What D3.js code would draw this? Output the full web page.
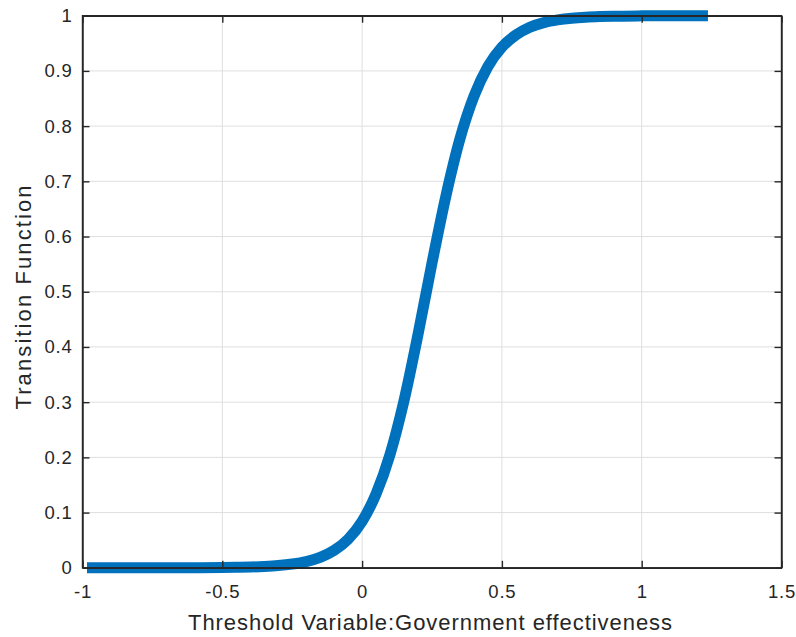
<!DOCTYPE html>
<html><head><meta charset="utf-8">
<script src="https://cdn.jsdelivr.net/npm/d3@7"></script>
<style>body{margin:0;background:#fff}svg{display:block}text{font-family:"Liberation Sans",Arial,sans-serif;fill:#262626}</style>
</head><body>
<svg id="c" width="796" height="637"></svg>
<script>
const xValues = [-0.984,-0.9,-0.8,-0.7,-0.6,-0.5,-0.45,-0.4,-0.35,-0.3,-0.25,-0.2,-0.15,-0.1,-0.05,0,0.05,0.1,0.15,0.2,0.25,0.3,0.35,0.4,0.45,0.5,0.55,0.6,0.65,0.7,0.75,0.8,0.85,0.9,1.0,1.1,1.237];
const yValues = [0.0000,0.0000,0.0000,0.0001,0.0002,0.0005,0.0009,0.0014,0.0024,0.0040,0.0068,0.0113,0.0189,0.0314,0.0517,0.084,0.134,0.2055,0.303,0.4227,0.552,0.674,0.777,0.854,0.908,0.943,0.965,0.979,0.9875,0.9925,0.9955,0.9973,0.9984,0.9991,0.9997,0.9999,1.0];
const xTicks = [-1,-0.5,0,0.5,1,1.5];
const yTicks = [0,0.1,0.2,0.3,0.4,0.5,0.6,0.7,0.8,0.9,1];
const xLabel = "Threshold Variable:Government effectiveness";
const yLabel = "Transition Function";

const svg = d3.select("#c");
const L=82.5, R=781.5, T=15.7, B=567.8;
const x = d3.scaleLinear().domain([-1,1.5]).range([L,R]);
const y = d3.scaleLinear().domain([0,1]).range([B,T]);
const fmt = d => String(d);

// grid
svg.append("g").selectAll("line").data(xTicks.slice(1,-1)).join("line")
  .attr("x1",d=>x(d)).attr("x2",d=>x(d)).attr("y1",T).attr("y2",B)
  .attr("stroke","#dfdfdf").attr("stroke-width",1);
svg.append("g").selectAll("line").data(yTicks.slice(1,-1)).join("line")
  .attr("y1",d=>y(d)).attr("y2",d=>y(d)).attr("x1",L).attr("x2",R)
  .attr("stroke","#dfdfdf").attr("stroke-width",1);

// curve
const line = d3.line().x((d,i)=>x(xValues[i])).y(d=>y(d)).curve(d3.curveMonotoneX);
svg.append("path").datum(yValues).attr("d",line).attr("fill","none")
  .attr("stroke","#0072BD").attr("stroke-width",11).attr("stroke-linecap","butt");

// axes
const ax = "#262626";
const gx = svg.append("g").attr("transform",`translate(0,${B})`)
  .call(d3.axisBottom(x).tickValues(xTicks).tickFormat(fmt).tickSizeInner(-7).tickSizeOuter(0).tickPadding(17));
const gx2 = svg.append("g").attr("transform",`translate(0,${T})`)
  .call(d3.axisTop(x).tickValues(xTicks).tickFormat("").tickSizeInner(-7).tickSizeOuter(0));
const gy = svg.append("g").attr("transform",`translate(${L},0)`)
  .call(d3.axisLeft(y).tickValues(yTicks).tickFormat(fmt).tickSizeInner(-7).tickSizeOuter(0).tickPadding(10));
const gy2 = svg.append("g").attr("transform",`translate(${R},0)`)
  .call(d3.axisRight(y).tickValues(yTicks).tickFormat("").tickSizeInner(-7).tickSizeOuter(0));
[gx,gx2,gy,gy2].forEach(g=>{
  g.selectAll(".domain").attr("stroke",ax).attr("stroke-width",1.4);
  g.selectAll(".tick line").attr("stroke",ax).attr("stroke-width",1.4);
  g.selectAll("text").attr("font-size",18.5).attr("letter-spacing",0.8).attr("fill","#262626").attr("font-family","'Liberation Sans',Arial,sans-serif");
});
svg.append("rect").attr("x",L).attr("y",T).attr("width",R-L).attr("height",B-T)
  .attr("fill","none").attr("stroke",ax).attr("stroke-width",1.4);

svg.append("text").attr("x",430).attr("y",630).attr("text-anchor","middle")
  .attr("font-size",22).attr("textLength",484).attr("lengthAdjust","spacing").text(xLabel);
svg.append("text").attr("transform",`translate(31,297.5) rotate(-90)`).attr("text-anchor","middle")
  .attr("font-size",22).attr("textLength",224).attr("lengthAdjust","spacing").text(yLabel);
</script>
</body></html>
